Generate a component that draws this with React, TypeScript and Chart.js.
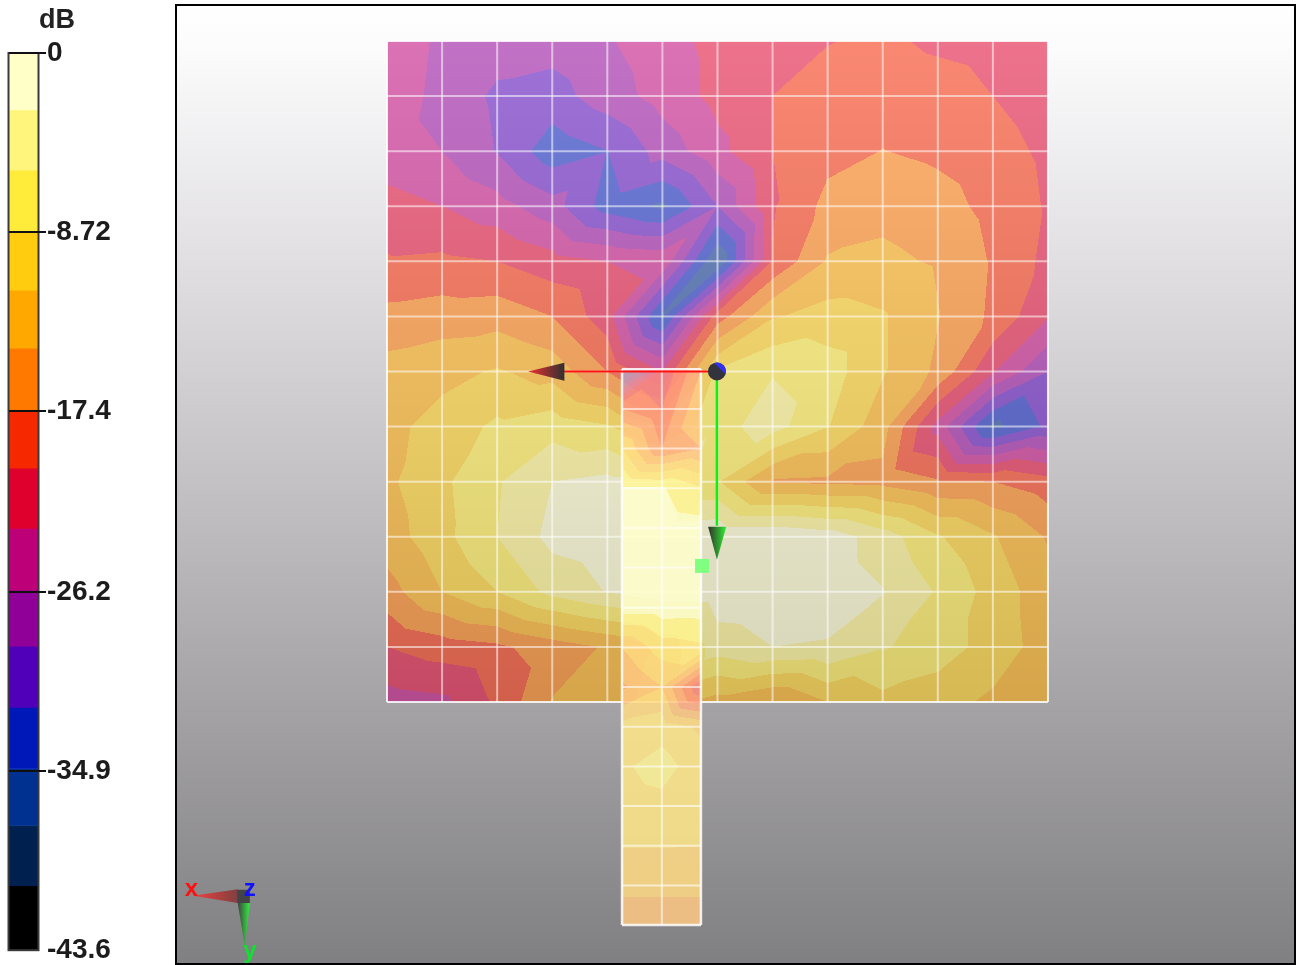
import React, { useEffect, useRef } from "react";
import { Chart, registerables } from "chart.js";

Chart.register(...registerables);

// ---- colour bar ----
const barLabels = ["dB"];
const bandSizes = [-2.77, -2.92, -2.97, -2.87, -2.82, -3.01, -2.82, -2.92, -3.01, -2.72, -2.97, -2.97, -2.77, -2.92, -3.16];
const bandColors = [
  "#FFFFC8", "#FFF47C", "#FFEB3A", "#FFCC10", "#FFA800", "#FF7800", "#F52800", "#E0002E",
  "#BE0078", "#900098", "#5000B8", "#0018B8", "#003090", "#002050", "#000000",
];
const tickValues = [0, -8.72, -17.4, -26.2, -34.9, -43.6];
const tickLabels = ["0", "-8.72", "-17.4", "-26.2", "-34.9", "-43.6"];
const unitLabel = "dB";

// ---- surface field, in colour-bar steps below 0 dB (one step = 2.907 dB) ----
const patchX = [0, 1, 2, 3, 4, 5, 6, 7, 8, 9, 10, 11, 12];
const patchY = [0, 1, 2, 3, 4, 5, 6, 7, 8, 9, 10, 11, 12];
const patchLevels = [
  [8.3, 9.2, 9.5, 9.6, 9.1, 8.4, 7.7, 7.3, 7.05, 6.8, 7.2, 7.4, 7.6],
  [8.4, 9.3, 10.2, 10.4, 9.5, 8.6, 7.7, 7.0, 6.5, 6.3, 6.5, 7.0, 7.5],
  [8.6, 9.0, 10.05, 11.6, 11.02, 9.6, 8.3, 7.0, 6.3, 5.98, 6.2, 6.6, 7.2],
  [7.6, 8.0, 8.6, 9.6, 11.45, 12.2, 10.0, 7.1, 5.7, 5.3, 5.6, 6.3, 7.1],
  [6.9, 6.8, 7.0, 7.6, 8.0, 8.2, 13.0, 6.9, 4.9, 4.77, 5.11, 6.1, 7.27],
  [5.7, 5.5, 5.4, 6.0, 7.6, 12.2, 6.5, 4.1, 3.6, 3.9, 4.95, 6.2, 7.9],
  [4.6, 4.3, 3.9, 4.4, 6.0, 8.0, 2.9, 2.05, 2.5, 3.9, 5.2, 7.9, 10.0],
  [4.3, 3.6, 2.8, 2.4, 2.9, 4.0, 2.3, 1.6, 2.95, 4.6, 8.4, 12.3, 10.8],
  [4.2, 3.2, 2.1, 1.0, 0.7, 0.9, 2.9, 5.1, 5.2, 5.3, 5.9, 6.0, 6.6],
  [4.5, 3.3, 2.0, 0.7, 0.4, 0.3, 0.1, 0.1, 0.45, 1.5, 2.9, 3.9, 5.1],
  [5.4, 4.0, 3.0, 1.7, 0.95, 0.4, 0.4, 0.3, 0.4, 0.95, 2.1, 3.4, 4.6],
  [7.0, 6.5, 6.2, 5.5, 4.9, 3.8, 1.5, 1.0, 1.1, 1.9, 2.5, 3.4, 4.5],
  [8.45, 8.25, 6.8, 4.95, 4.4, 3.6, 4.4, 5.1, 4.0, 3.3, 3.6, 4.2, 4.8],
];

const feedX = [4.267, 4.99, 5.7];
const feedY = [5.96, 6.68, 7.4, 8.12, 8.84, 9.56, 10.29, 11.01, 11.73, 12.45, 13.17, 13.89, 14.61, 15.33, 16.05];
const feedLevels = [
  [12, 8, 5],
  [6, 7, 4],
  [3, 6, 5],
  [0.8, 0.9, 1.9],
  [0.5, 0.4, 0.6],
  [0.4, 0.3, 0.4],
  [0.5, 0.4, 0.5],
  [4, 2.5, 2.2],
  [5.2, 4, 8],
  [2.7, 2.4, 3.2],
  [2.15, 1.6, 2.55],
  [2.5, 2.3, 2.6],
  [2.95, 2.95, 3.0],
  [3.7, 3.7, 3.7],
  [4.7, 4.7, 4.7],
];
const feedColors = [
  [255, 255, 205], [255, 246, 150], [255, 232, 135], [255, 218, 130], [255, 200, 130],
  [255, 175, 130], [255, 150, 125], [245, 135, 135], [230, 140, 160], [205, 150, 180],
  [185, 160, 190], [175, 170, 195], [170, 170, 195], [170, 170, 195], [170, 170, 195],
];

// ---- scene markers, in surface-cell units ----
const originPoint = [{ x: 5.99, y: 6.0 }];
const redAxis = [{ x: 5.99, y: 6.0 }, { x: 3.2, y: 6.0 }];
const greenAxis = [{ x: 5.99, y: 6.0 }, { x: 5.99, y: 8.8 }];
const probePoint = [{ x: 5.72, y: 9.53 }];
const redCone = [[2.56, 6.0], [3.22, 5.84], [3.22, 6.17]];
const greenCone = [[5.83, 8.82], [6.16, 8.82], [5.99, 9.42]];
const miniRedCone = [[-3.52, 15.52], [-2.71, 15.4], [-2.71, 15.65]];
const miniGreenCone = [[-2.71, 15.65], [-2.49, 15.65], [-2.58, 16.45]];
const miniCube = [-2.72, 15.41, -2.49, 15.65];
const miniLabels = [
  { t: "x", x: -3.55, y: 15.4, c: "#FF1010" },
  { t: "z", x: -2.49, y: 15.4, c: "#1010FF" },
  { t: "y", x: -2.49, y: 16.53, c: "#10E030" },
];

const hexRgb = (h: string) => [parseInt(h.slice(1, 3), 16), parseInt(h.slice(3, 5), 16), parseInt(h.slice(5, 7), 16)];
const patchRgb = bandColors.map(hexRgb);

function levelAt(xs: number[], ys: number[], g: number[][], x: number, y: number) {
  let i = 0, j = 0;
  while (i < xs.length - 2 && x > xs[i + 1]) i++;
  while (j < ys.length - 2 && y > ys[j + 1]) j++;
  const fx = (x - xs[i]) / (xs[i + 1] - xs[i]);
  const fy = (y - ys[j]) / (ys[j + 1] - ys[j]);
  const a = g[j][i], b = g[j][i + 1], c = g[j + 1][i], d = g[j + 1][i + 1];
  // every cell is split along its top-right to bottom-left diagonal
  return fx + fy <= 1 ? a + fx * (b - a) + fy * (c - a) : d + (1 - fx) * (c - d) + (1 - fy) * (b - d);
}

function drawField(chart: any, xs: number[], ys: number[], g: number[][], pal: number[][], alpha: number) {
  const sx = chart.scales.x, sy = chart.scales.y, ctx = chart.ctx;
  const x0 = Math.round(sx.getPixelForValue(xs[0])), x1 = Math.round(sx.getPixelForValue(xs[xs.length - 1]));
  const y0 = Math.round(sy.getPixelForValue(ys[0])), y1 = Math.round(sy.getPixelForValue(ys[ys.length - 1]));
  const w = x1 - x0, h = y1 - y0;
  const off = document.createElement("canvas");
  off.width = w; off.height = h;
  const oc = off.getContext("2d")!;
  const img = oc.createImageData(w, h);
  for (let py = 0; py < h; py++) {
    const vy = sy.getValueForPixel(y0 + py + 0.5);
    for (let px = 0; px < w; px++) {
      const vx = sx.getValueForPixel(x0 + px + 0.5);
      const lv = levelAt(xs, ys, g, vx, vy);
      const band = Math.max(0, Math.min(pal.length - 1, Math.floor(lv)));
      const c = pal[band], k = (py * w + px) * 4;
      img.data[k] = c[0]; img.data[k + 1] = c[1]; img.data[k + 2] = c[2]; img.data[k + 3] = alpha;
    }
  }
  oc.putImageData(img, 0, 0);
  ctx.drawImage(off, x0, y0);
}

function drawMesh(chart: any, xs: number[], ys: number[], inner: string, outer: string, outerW: number) {
  const sx = chart.scales.x, sy = chart.scales.y, ctx = chart.ctx;
  ctx.save();
  const seg = (a: number, b: number, c: number, d: number, col: string, lw: number) => {
    ctx.strokeStyle = col; ctx.lineWidth = lw; ctx.beginPath();
    ctx.moveTo(sx.getPixelForValue(a), sy.getPixelForValue(b));
    ctx.lineTo(sx.getPixelForValue(c), sy.getPixelForValue(d));
    ctx.stroke();
  };
  const xa = xs[0], xb = xs[xs.length - 1], ya = ys[0], yb = ys[ys.length - 1];
  xs.forEach((x, i) => {
    const e = i === 0 || i === xs.length - 1;
    seg(x, ya, x, yb, e ? outer : inner, e ? outerW : 2);
  });
  ys.forEach((y, i) => {
    const e = i === 0 || i === ys.length - 1;
    seg(xa, y, xb, y, e ? outer : inner, e ? outerW : 2);
  });
  ctx.restore();
}

function cone(chart: any, pts: number[][], from: string, to: string) {
  const sx = chart.scales.x, sy = chart.scales.y, ctx = chart.ctx;
  const p = pts.map((q) => [sx.getPixelForValue(q[0]), sy.getPixelForValue(q[1])]);
  const xsP = p.map((q) => q[0]);
  const gr = ctx.createLinearGradient(Math.min(...xsP), 0, Math.max(...xsP), 0);
  gr.addColorStop(0, from); gr.addColorStop(1, to);
  ctx.fillStyle = gr;
  ctx.beginPath();
  p.forEach((q, i) => (i ? ctx.lineTo(q[0], q[1]) : ctx.moveTo(q[0], q[1])));
  ctx.closePath();
  ctx.fill();
}

const scenePlugin = {
  id: "scene",
  beforeDraw(chart: any) {
    const { ctx, width, height } = chart;
    const g = ctx.createLinearGradient(0, 0, 0, height);
    g.addColorStop(0, "#FFFFFF");
    g.addColorStop(0.04, "#FDFCFD");
    g.addColorStop(0.5, "#C3C1C4");
    g.addColorStop(1, "#807F82");
    ctx.fillStyle = g;
    ctx.fillRect(0, 0, width, height);
  },
  beforeDatasetsDraw(chart: any) {
    drawField(chart, patchX, patchY, patchLevels, patchRgb, 140);
    drawMesh(chart, patchX, patchY, "rgba(255,255,255,0.55)", "rgba(255,255,255,0.85)", 2);
    drawField(chart, feedX, feedY, feedLevels, feedColors, 217);
    drawMesh(chart, feedX, feedY, "rgba(255,255,255,0.6)", "rgba(255,255,255,0.85)", 2.5);
  },
  afterDatasetsDraw(chart: any) {
    const { ctx, scales } = chart;
    const sx = scales.x, sy = scales.y;
    cone(chart, redCone, "#F03030", "#303030");
    cone(chart, greenCone, "#303030", "#30F030");
    // origin sphere: dark with a blue side
    const ox = sx.getPixelForValue(originPoint[0].x), oy = sy.getPixelForValue(originPoint[0].y);
    ctx.save();
    ctx.fillStyle = "#33333D";
    ctx.beginPath(); ctx.arc(ox, oy, 9, 0, Math.PI * 2); ctx.fill();
    ctx.fillStyle = "#3030F0";
    ctx.beginPath(); ctx.arc(ox, oy, 9, -Math.PI * 0.6, Math.PI * 0.1); ctx.fill();
    ctx.restore();
    // small orientation triad
    cone(chart, miniRedCone, "#F04040", "#804040");
    cone(chart, miniGreenCone, "#404040", "#30F040");
    const cx = sx.getPixelForValue(miniCube[0]), cy = sy.getPixelForValue(miniCube[1]);
    const cx2 = sx.getPixelForValue(miniCube[2]), cy2 = sy.getPixelForValue(miniCube[3]);
    ctx.fillStyle = "#444448";
    ctx.fillRect(cx, cy, cx2 - cx, cy2 - cy);
    ctx.save();
    ctx.font = "bold 24px 'Liberation Sans', sans-serif";
    ctx.textAlign = "center";
    ctx.textBaseline = "middle";
    miniLabels.forEach((l) => {
      ctx.fillStyle = l.c;
      ctx.fillText(l.t, sx.getPixelForValue(l.x), sy.getPixelForValue(l.y));
    });
    ctx.restore();
  },
};

const barPlugin = {
  id: "barFrame",
  afterDatasetsDraw(chart: any) {
    const { ctx, chartArea: a } = chart;
    ctx.save();
    ctx.strokeStyle = "#3a3a3a";
    ctx.lineWidth = 2;
    ctx.strokeRect(a.left - 0.5, a.top, a.right - a.left + 1, a.bottom - a.top);
    ctx.fillStyle = "#222";
    ctx.font = "bold 27px 'Liberation Sans', sans-serif";
    ctx.textAlign = "center";
    ctx.textBaseline = "middle";
    ctx.fillText(unitLabel, 57, 21);
    ctx.restore();
  },
};

const xMeshMin = (177 - 387) / 55.08, xMeshMax = (1294 - 387) / 55.08;
const yMeshMin = (6 - 41) / 55.08, yMeshMax = (963 - 41) / 55.08;

export default function App() {
  const barRef = useRef<HTMLCanvasElement>(null);
  const mainRef = useRef<HTMLCanvasElement>(null);

  useEffect(() => {
    document.body.style.margin = "0";
    document.body.style.background = "#fff";
    const bar = new Chart(barRef.current!, {
      type: "bar",
      data: {
        labels: barLabels,
        datasets: bandSizes.map((v, i) => ({
          label: `band ${i}`,
          data: [v],
          backgroundColor: bandColors[i],
          borderWidth: 0,
          barPercentage: 1,
          categoryPercentage: 1,
        })),
      },
      options: {
        animation: false,
        responsive: false,
        devicePixelRatio: 1,
        layout: { autoPadding: false, padding: { left: 9, top: 53, bottom: 12, right: 0 } },
        plugins: { legend: { display: false }, tooltip: { enabled: false }, title: { display: false } },
        scales: {
          x: { display: false, stacked: true },
          y: {
            stacked: true,
            position: "right",
            min: -43.6,
            max: 0,
            afterFit: (s: any) => { s.width = 137; },
            afterBuildTicks: (s: any) => { s.ticks = tickValues.map((value) => ({ value })); },
            grid: {
              z: 1,
              color: (c: any) => (c.tick && c.tick.value === -43.6 ? "rgba(0,0,0,0)" : "#101010"),
              lineWidth: 2,
              tickLength: 8,
              drawTicks: true,
            },
            border: { display: false },
            ticks: {
              autoSkip: false,
              padding: 1,
              color: "#1c1c1c",
              font: { family: "'Liberation Sans', sans-serif", size: 28, weight: "bold" },
              callback: (v: any) => tickLabels[tickValues.indexOf(Number(v))] ?? "",
            },
          },
        },
      },
      plugins: [barPlugin],
    } as any);

    const main = new Chart(mainRef.current!, {
      type: "scatter",
      data: {
        datasets: [
          { label: "x axis", data: redAxis, showLine: true, borderColor: "#FF1010", borderWidth: 2, pointRadius: 0 },
          { label: "y axis", data: greenAxis, showLine: true, borderColor: "#10F010", borderWidth: 2.5, pointRadius: 0 },
          { label: "probe", data: probePoint, pointStyle: "rect", pointRadius: 9.9, pointBackgroundColor: "#80FF80", pointBorderWidth: 0 },
        ],
      },
      options: {
        animation: false,
        responsive: false,
        devicePixelRatio: 1,
        layout: { autoPadding: false, padding: 0 },
        plugins: { legend: { display: false }, tooltip: { enabled: false } },
        scales: {
          x: { type: "linear", display: false, min: xMeshMin, max: xMeshMax },
          y: { type: "linear", display: false, reverse: true, min: yMeshMin, max: yMeshMax },
        },
      },
      plugins: [scenePlugin],
    } as any);

    return () => { bar.destroy(); main.destroy(); };
  }, []);

  return (
    <div style={{ position: "absolute", left: 0, top: 0, width: 1299, height: 965, background: "#fff", overflow: "hidden" }}>
      <canvas ref={barRef} width={175} height={968} style={{ position: "absolute", left: 0, top: 0, width: 175, height: 968, filter: "blur(0.5px)" }} />
      <div style={{ position: "absolute", left: 175, top: 4, width: 1121, height: 961, boxSizing: "border-box", border: "2px solid #000", overflow: "hidden" }}>
        <canvas ref={mainRef} width={1117} height={957} style={{ display: "block", width: 1117, height: 957, filter: "blur(0.5px)" }} />
      </div>
    </div>
  );
}
